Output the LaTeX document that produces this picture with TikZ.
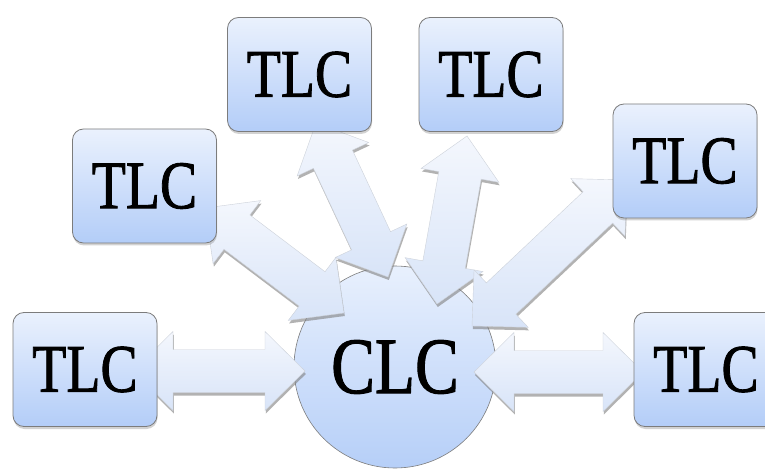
\documentclass[tikz,border=0pt]{standalone}
\usepackage{fontspec}
\setmainfont{Liberation Serif}
\newfontfamily\heavyfont{Liberation Serif}[FakeBold=1.4]
\usetikzlibrary{calc,shadows}
\definecolor{boxtop}{HTML}{EAF1FD}
\definecolor{boxbot}{HTML}{B3CDF8}
\definecolor{boxline}{HTML}{7C7C7C}
\definecolor{circtop}{HTML}{E8F0FD}
\definecolor{circbot}{HTML}{B6CFF8}
\definecolor{arrtop}{HTML}{F4F7FD}
\definecolor{arrbot}{HTML}{D8E4F8}
\definecolor{arrline}{HTML}{CDD2DA}
\def\fahl{40pt}
\def\fahw{39.5pt}
\def\fasw{21.5pt}
\newcommand\fatarrow[2]{%
  \path[fatarrow] let \p1=(#1), \p2=(#2), \n1={atan2(\y2-\y1,\x2-\x1)} in
    (\p1)
    -- ($(\p1)+(\n1:\fahl)+(\n1+90:\fahw)$)
    -- ($(\p1)+(\n1:\fahl)+(\n1+90:\fasw)$)
    -- ($(\p2)+(\n1+180:\fahl)+(\n1+90:\fasw)$)
    -- ($(\p2)+(\n1+180:\fahl)+(\n1+90:\fahw)$)
    -- (\p2)
    -- ($(\p2)+(\n1+180:\fahl)+(\n1-90:\fahw)$)
    -- ($(\p2)+(\n1+180:\fahl)+(\n1-90:\fasw)$)
    -- ($(\p1)+(\n1:\fahl)+(\n1-90:\fasw)$)
    -- ($(\p1)+(\n1:\fahl)+(\n1-90:\fahw)$)
    -- cycle;}
\tikzset{
  tlc/.style={draw=boxline, line width=0.8pt, rounded corners=11pt,
    minimum width=144pt, minimum height=114pt, inner sep=0pt,
    top color=boxtop, bottom color=boxbot,
    drop shadow={opacity=0.35, shadow xshift=0.5pt, shadow yshift=-2.5pt},
    font=\heavyfont\fontsize{68}{70}\selectfont},
  clc/.style={circle, draw=boxline, line width=0.6pt, minimum size=202pt,
    inner sep=0pt, top color=circtop, bottom color=circbot,
    font=\heavyfont\fontsize{80}{82}\selectfont},
  fatarrow/.style={draw=arrline, line width=0.4pt, line join=miter,
    top color=arrtop, bottom color=arrbot,
    drop shadow={opacity=0.6, shadow xshift=0.8pt, shadow yshift=-3pt}}
}
\begin{document}
\begin{tikzpicture}[x=1pt,y=-1pt]
  \fill[white] (0,0) rectangle (765,470);
  \useasboundingbox (0,0) rectangle (765,470);
  % central node
  \node[clc] (clc) at (395,367) {\scalebox{0.82}[1]{CLC}};
  % arrow end points
  \coordinate (l1) at (133,371);  \coordinate (l2) at (305,371);
  \coordinate (r1) at (474,372);  \coordinate (r2) at (643,372);
  \coordinate (u1) at (205,208);  \coordinate (u2) at (344,313);
  \coordinate (t1) at (316,123);  \coordinate (t2) at (388,277);
  \coordinate (s1) at (467,136);  \coordinate (s2) at (437,304);
  \coordinate (q1) at (627,180);  \coordinate (q2) at (472,326);
  % block arrows
  \fatarrow{l1}{l2}
  \fatarrow{r1}{r2}
  \fatarrow{u1}{u2}
  \fatarrow{t1}{t2}
  \fatarrow{s1}{s2}
  \fatarrow{q1}{q2}
  % outer nodes
  \node[tlc] (tlcA) at (85,369.5)  {\scalebox{0.82}[1]{TLC}};
  \node[tlc] (tlcB) at (144.5,186) {\scalebox{0.82}[1]{TLC}};
  \node[tlc] (tlcC) at (299.5,74.5) {\scalebox{0.82}[1]{TLC}};
  \node[tlc] (tlcD) at (491,74.5)  {\scalebox{0.82}[1]{TLC}};
  \node[tlc] (tlcE) at (685,161)   {\scalebox{0.82}[1]{TLC}};
  \node[tlc] (tlcF) at (706,369.5) {\scalebox{0.82}[1]{TLC}};
\end{tikzpicture}
\end{document}
